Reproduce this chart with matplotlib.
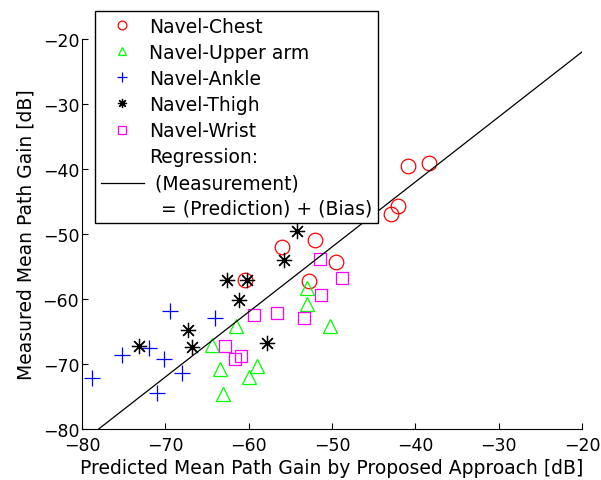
import numpy as np
import matplotlib
matplotlib.use("Agg")
import matplotlib.pyplot as plt

plt.rcParams['font.family'] = ['DejaVu Sans']

# values (dB)
chest_x = [-56.0, -52.0, -60.4, -49.5, -52.8, -42.9, -42.1, -40.9, -38.3]
chest_y = [-52.0, -50.9, -57.1, -54.3, -57.3, -46.9, -45.7, -39.6, -39.1]

upper_x = [-53.0, -53.0, -50.2, -61.5, -64.4, -63.4, -59.0, -59.9, -63.1]
upper_y = [-58.3, -60.8, -64.1, -64.2, -67.1, -70.8, -70.3, -72.0, -74.6]

ankle_x = [-69.4, -75.2, -72.0, -70.1, -68.0, -71.0, -78.8, -64.0]
ankle_y = [-61.8, -68.6, -67.5, -69.3, -71.4, -74.4, -72.2, -63.0]

thigh_x = [-73.2, -67.3, -66.8, -54.2, -55.8, -62.6, -60.2, -61.1, -57.8]
thigh_y = [-67.2, -64.7, -67.4, -49.6, -54.0, -57.1, -57.1, -60.1, -66.8]

wrist_x = [-51.4, -48.8, -51.3, -59.4, -56.6, -53.4, -62.8, -61.6, -60.9]
wrist_y = [-53.8, -56.8, -59.4, -62.5, -62.2, -62.9, -67.2, -69.2, -68.7]

bias = -2.0
ticks = [-80, -70, -60, -50, -40, -30, -20]

fig = plt.figure(figsize=(6.01, 4.81), dpi=100)
ax = fig.add_axes([0.1364, 0.106, 0.832, 0.811])

mew = 0.9
ax.plot(chest_x, chest_y, 'o', ms=10.5, mfc='none', mec=(1, 0, 0), mew=mew, label='Navel-Chest')
ax.plot(upper_x, upper_y, '^', ms=9.5, mfc='none', mec=(0, 1, 0), mew=mew, label='Navel-Upper arm')
ax.plot(ankle_x, ankle_y, '+', ms=11, mec=(0, 0, 1), mew=mew, label='Navel-Ankle')
ax.plot(thigh_x, thigh_y, ls='none', marker=(8, 2, 0), ms=11, mec='k', mew=mew, label='Navel-Thigh')
ax.plot(wrist_x, wrist_y, 's', ms=8.5, mfc='none', mec=(1, 0, 1), mew=mew, label='Navel-Wrist')

rx = np.array([-80, -20])
ax.plot(rx, rx + bias, 'k-', lw=0.9,
        label='Regression:\n (Measurement)\n  = (Prediction) + (Bias)')

ax.set_xlim(-80, -20)
ax.set_ylim(-80, -20)
ax.set_xticks(ticks)
ax.set_yticks(ticks)
ax.tick_params(direction='in', length=4, width=0.8, labelsize=12.5)
ax.tick_params(axis='x', pad=5)
ax.tick_params(axis='y', pad=2)
ax.spines['top'].set_visible(False)
ax.spines['right'].set_visible(False)

ax.set_xlabel('Predicted Mean Path Gain by Proposed Approach [dB]', fontsize=13.5, labelpad=3)
ax.set_ylabel('Measured Mean Path Gain [dB]', fontsize=13.5, labelpad=5)

leg = ax.legend(loc='upper left', bbox_to_anchor=(95 / 601, 1 - 12 / 481),
                bbox_transform=fig.transFigure, borderaxespad=0,
                fontsize=13.5, frameon=True,
                fancybox=False, markerscale=0.6, handlelength=2.3,
                labelspacing=0.38, borderpad=0.3, handletextpad=0.3)
leg.get_texts()[-1].set_linespacing(1.45)
leg.get_frame().set_edgecolor('k')
leg.get_frame().set_linewidth(1.0)
leg.get_frame().set_alpha(1)

fig.savefig('out.png', dpi=100)
